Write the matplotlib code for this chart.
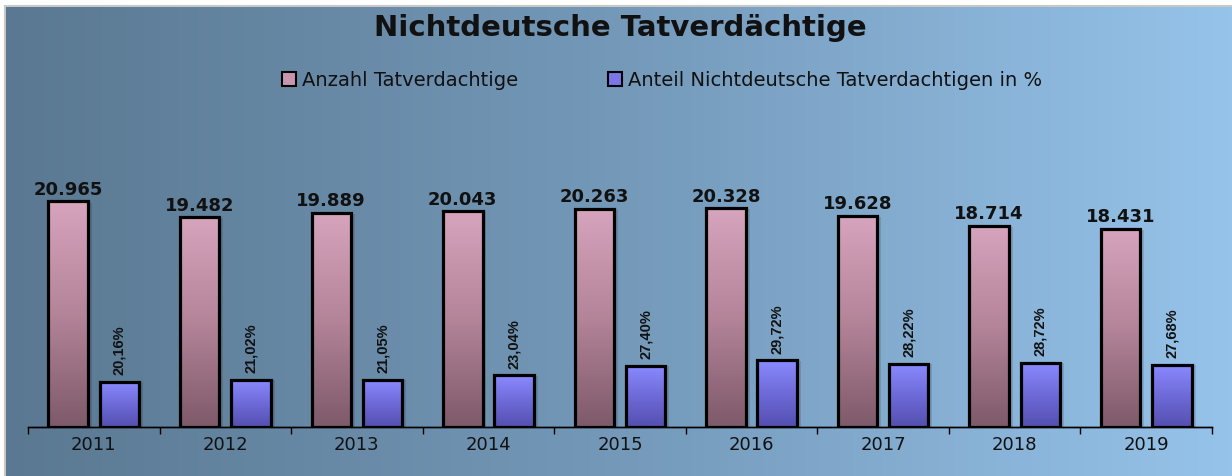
import numpy as np
import matplotlib
matplotlib.use("Agg")
import matplotlib.pyplot as plt
from matplotlib.colors import LinearSegmentedColormap
from matplotlib.patches import Rectangle

# Daten
jahre = ["2011", "2012", "2013", "2014", "2015", "2016", "2017", "2018", "2019"]
anzahl = [20965, 19482, 19889, 20043, 20263, 20328, 19628, 18714, 18431]
anteil = [20.16, 21.02, 21.05, 23.04, 27.40, 29.72, 28.22, 28.72, 27.68]

fig = plt.figure(figsize=(12.32, 4.77), dpi=100, facecolor="white")

# Hintergrund mit Farbverlauf
bg = fig.add_axes([6 / 1232, 0, 1 - 6 / 1232, 1 - 8 / 477])
bg_cmap = LinearSegmentedColormap.from_list("bg", ["#5a7891", "#7499b9", "#96c3ea"])
bg.imshow(np.linspace(0, 1, 256).reshape(1, -1), cmap=bg_cmap, aspect="auto",
          extent=[0, 1, 0, 1])
bg.set_axis_off()
fig.add_artist(Rectangle((5 / 1232, 0), 1, 1 - 7 / 477, transform=fig.transFigure,
                         fill=False, edgecolor="#c8c8c8", linewidth=1.5, zorder=0))

ax = fig.add_axes([28 / 1232, 1 - 428 / 477, (1212 - 28) / 1232, (428 - 159) / 477])
ax.patch.set_alpha(0)
ax2 = ax.twinx()
ax2.patch.set_alpha(0)

x = np.arange(len(jahre))
w = 0.30
off = 0.195

pink_cmap = LinearSegmentedColormap.from_list("pink", ["#7e5a6a", "#b48499", "#d6a4bd"])
blau_cmap = LinearSegmentedColormap.from_list("blau", ["#5450b0", "#6e6ad8", "#8a8aff"])


def gradient_bars(axis, bars, cmap):
    for b in bars:
        x0, y0 = b.get_x(), b.get_y()
        bw, bh = b.get_width(), b.get_height()
        # Schatten
        axis.add_patch(Rectangle((x0 + bw, y0), 0.03, bh * 0.995, facecolor="black",
                                 alpha=0.12, edgecolor="none", zorder=1))
        im = axis.imshow(np.linspace(0, 1, 100).reshape(-1, 1), cmap=cmap, aspect="auto",
                         origin="lower", extent=[x0, x0 + bw, y0, y0 + bh], zorder=2)
        im.set_clip_path(b)
        b.set_facecolor("none")


b1 = ax.bar(x - off, anzahl, w, edgecolor="black", linewidth=2.3, zorder=3,
            label="Anzahl Tatverdachtige")
b2 = ax2.bar(x + off, anteil, w, edgecolor="black", linewidth=2.3, zorder=3,
             label="Anteil Nichtdeutsche Tatverdachtigen in %")
gradient_bars(ax, b1, pink_cmap)
gradient_bars(ax2, b2, blau_cmap)

ax.set_xlim(-0.5, len(jahre) - 0.5)
ax.set_ylim(0, 25000)
ax2.set_ylim(0, 120)

for i, v in enumerate(anzahl):
    s = f"{v:,}".replace(",", ".")
    ax.text(x[i] - off, v + 350, s, ha="center", va="bottom", fontsize=13,
            fontweight="bold", color="#111111", zorder=5)
for i, v in enumerate(anteil):
    s = f"{v:.2f}".replace(".", ",") + "%"
    ax2.text(x[i] + off, v + 3.5, s, ha="center", va="bottom", rotation=90,
             fontsize=10.5, fontweight="bold", color="#111111", zorder=5,
             family=["Liberation Sans", "DejaVu Sans"])

ax.set_xticks(np.arange(len(jahre) + 1) - 0.5, minor=False)
ax.set_xticklabels([])
ax.set_xticks(x, minor=True)
ax.set_xticklabels(jahre, minor=True, fontsize=13, color="#111111")
ax.tick_params(axis="x", which="major", length=5, width=1, direction="out", color="black")
ax.tick_params(axis="x", which="minor", length=0, pad=6)
ax.set_yticks([])
ax2.set_yticks([])
for a in (ax, ax2):
    for sp in ("top", "left", "right"):
        a.spines[sp].set_visible(False)
    a.spines["bottom"].set_color("black")
    a.spines["bottom"].set_linewidth(1)

fig.text(620 / 1232, 1 - 28 / 477, "Nichtdeutsche Tatverdächtige", ha="center", va="center",
         fontsize=21, fontweight="bold", color="#111111")

handles = [Rectangle((0, 0), 1, 1, facecolor="#c995ae", edgecolor="black", linewidth=1.5),
           Rectangle((0, 0), 1, 1, facecolor="#7a76e8", edgecolor="black", linewidth=1.5)]
fig.legend(handles, ["Anzahl Tatverdachtige", "Anteil Nichtdeutsche Tatverdachtigen in %"],
           loc="center", bbox_to_anchor=(662 / 1232, 1 - 81 / 477), ncol=2, frameon=False,
           fontsize=14, handlelength=0.75, handleheight=0.75, handletextpad=0.3,
           columnspacing=4.6, labelcolor="#111111")

fig.savefig("out.png", dpi=100, facecolor="white")
